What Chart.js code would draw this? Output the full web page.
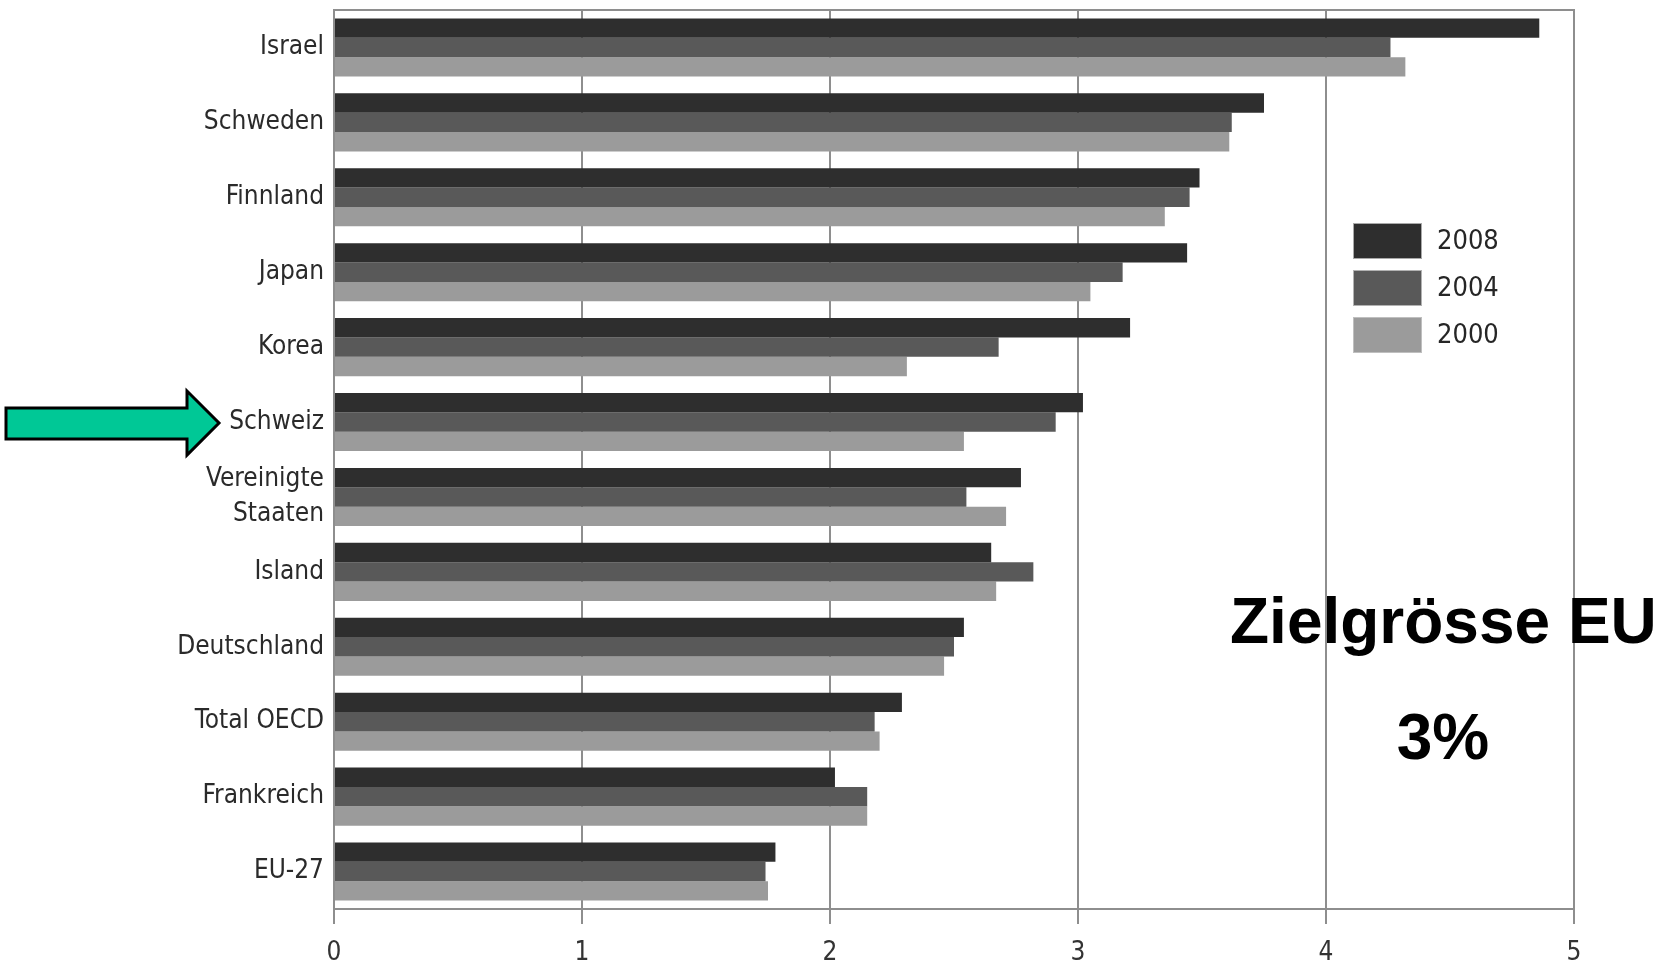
<!DOCTYPE html>
<html>
<head>
<meta charset="utf-8">
<script src="https://cdn.jsdelivr.net/npm/chart.js@4/dist/chart.umd.min.js"></script>
<style>
  html, body { margin: 0; padding: 0; background: #ffffff; }
  #wrap { width: 1664px; height: 965px; position: relative; }
</style>
</head>
<body>
<div id="wrap"><canvas id="c" width="1664" height="965"></canvas></div>
<script>
// Ausgaben für Forschung und Entwicklung in % des BIP
const categories = ['Israel', 'Schweden', 'Finnland', 'Japan', 'Korea', 'Schweiz',
  ['Vereinigte', 'Staaten'], 'Island', 'Deutschland', 'Total OECD', 'Frankreich', 'EU-27'];
const seriesNames = ['2008', '2004', '2000'];
const values2008 = [4.86, 3.75, 3.49, 3.44, 3.21, 3.02, 2.77, 2.65, 2.54, 2.29, 2.02, 1.78];
const values2004 = [4.26, 3.62, 3.45, 3.18, 2.68, 2.91, 2.55, 2.82, 2.50, 2.18, 2.15, 1.74];
const values2000 = [4.32, 3.61, 3.35, 3.05, 2.31, 2.54, 2.71, 2.67, 2.46, 2.20, 2.15, 1.75];
const xTicks = [0, 1, 2, 3, 4, 5];
const highlighted = 'Schweiz';
const targetTitle = 'Zielgrösse EU';
const targetValue = '3%';

const colors = ['#2e2e2e', '#595959', '#9b9b9b'];
const labelFont = "'Liberation Sans Narrow', 'DejaVu Sans Condensed', 'Arial Narrow', sans-serif";
const gridColor = '#8e8e8e';

// frame around the plot area
const framePlugin = {
  id: 'frame',
  beforeDatasetsDraw(chart) {
    const a = chart.chartArea, ctx = chart.ctx;
    ctx.save();
    ctx.strokeStyle = gridColor;
    ctx.lineWidth = 2;
    ctx.strokeRect(a.left, a.top, a.right - a.left, a.bottom - a.top);
    ctx.restore();
  }
};

// legend boxes, arrow and the EU target note
const overlayPlugin = {
  id: 'overlay',
  afterDraw(chart) {
    const ctx = chart.ctx;
    const y = chart.scales.y;
    ctx.save();

    // legend
    chart.data.datasets.forEach((ds, i) => {
      const top = 223 + i * 47;
      ctx.fillStyle = ds.backgroundColor;
      ctx.fillRect(1353, top, 69, 36);
      ctx.strokeStyle = 'rgba(200,200,200,0.8)';
      ctx.lineWidth = 1;
      ctx.strokeRect(1353.5, top + 0.5, 68, 35);
      ctx.fillStyle = '#262626';
      ctx.font = '27px ' + labelFont;
      ctx.textBaseline = 'middle';
      ctx.textAlign = 'left';
      ctx.fillText(ds.label, 1437, top + 19);
    });

    // arrow pointing at the highlighted country
    const idx = categories.indexOf(highlighted);
    const cy = y.getPixelForValue(idx) + 1;
    ctx.beginPath();
    ctx.moveTo(6, cy - 15);
    ctx.lineTo(187, cy - 15);
    ctx.lineTo(187, cy - 32);
    ctx.lineTo(219, cy);
    ctx.lineTo(187, cy + 32);
    ctx.lineTo(187, cy + 16);
    ctx.lineTo(6, cy + 16);
    ctx.closePath();
    ctx.fillStyle = '#00c896';
    ctx.fill();
    ctx.strokeStyle = '#000000';
    ctx.lineWidth = 3;
    ctx.lineJoin = 'miter';
    ctx.stroke();

    // target note
    ctx.fillStyle = '#000000';
    ctx.font = "bold 64px 'Liberation Sans', Arial, sans-serif";
    ctx.textBaseline = 'alphabetic';
    ctx.textAlign = 'left';
    ctx.fillText(targetTitle, 1230, 643);
    ctx.textAlign = 'center';
    ctx.fillText(targetValue, 1443, 759);
    ctx.restore();
  }
};

new Chart(document.getElementById('c'), {
  type: 'bar',
  data: {
    labels: categories,
    datasets: [
      { label: seriesNames[0], data: values2008, backgroundColor: colors[0] },
      { label: seriesNames[1], data: values2004, backgroundColor: colors[1] },
      { label: seriesNames[2], data: values2000, backgroundColor: colors[2] }
    ]
  },
  options: {
    indexAxis: 'y',
    responsive: false,
    animation: false,
    devicePixelRatio: 1,
    layout: { padding: { top: 10, right: 90, left: 0, bottom: 0 } },
    datasets: {
      bar: { barPercentage: 1.0, categoryPercentage: 0.775, borderWidth: 0 }
    },
    plugins: {
      legend: { display: false },
      tooltip: { enabled: false },
      title: { display: false }
    },
    scales: {
      x: {
        type: 'linear',
        min: 0,
        max: 5,
        afterBuildTicks(scale) { scale.ticks = xTicks.map(v => ({ value: v })); },
        afterFit(scale) {
          scale.height = 56;
          scale.paddingLeft = 0;
          scale.paddingRight = 0;
        },
        grid: {
          color: gridColor,
          lineWidth: 2,
          drawTicks: true,
          tickLength: 15,
          tickColor: gridColor
        },
        border: { display: true, color: gridColor, width: 2 },
        ticks: {
          color: '#333333',
          padding: 14,
          maxRotation: 0,
          font: { family: labelFont, size: 26 }
        }
      },
      y: {
        type: 'category',
        afterFit(scale) {
          scale.width = 334;
          scale.paddingTop = 0;
          scale.paddingBottom = 0;
        },
        grid: { display: false, drawTicks: false },
        border: { display: true, color: gridColor, width: 2 },
        ticks: {
          color: '#2a2a2a',
          padding: 10,
          autoSkip: false,
          font: { family: labelFont, size: 26, lineHeight: 1.35 }
        }
      }
    }
  },
  plugins: [framePlugin, overlayPlugin]
});
</script>
</body>
</html>
